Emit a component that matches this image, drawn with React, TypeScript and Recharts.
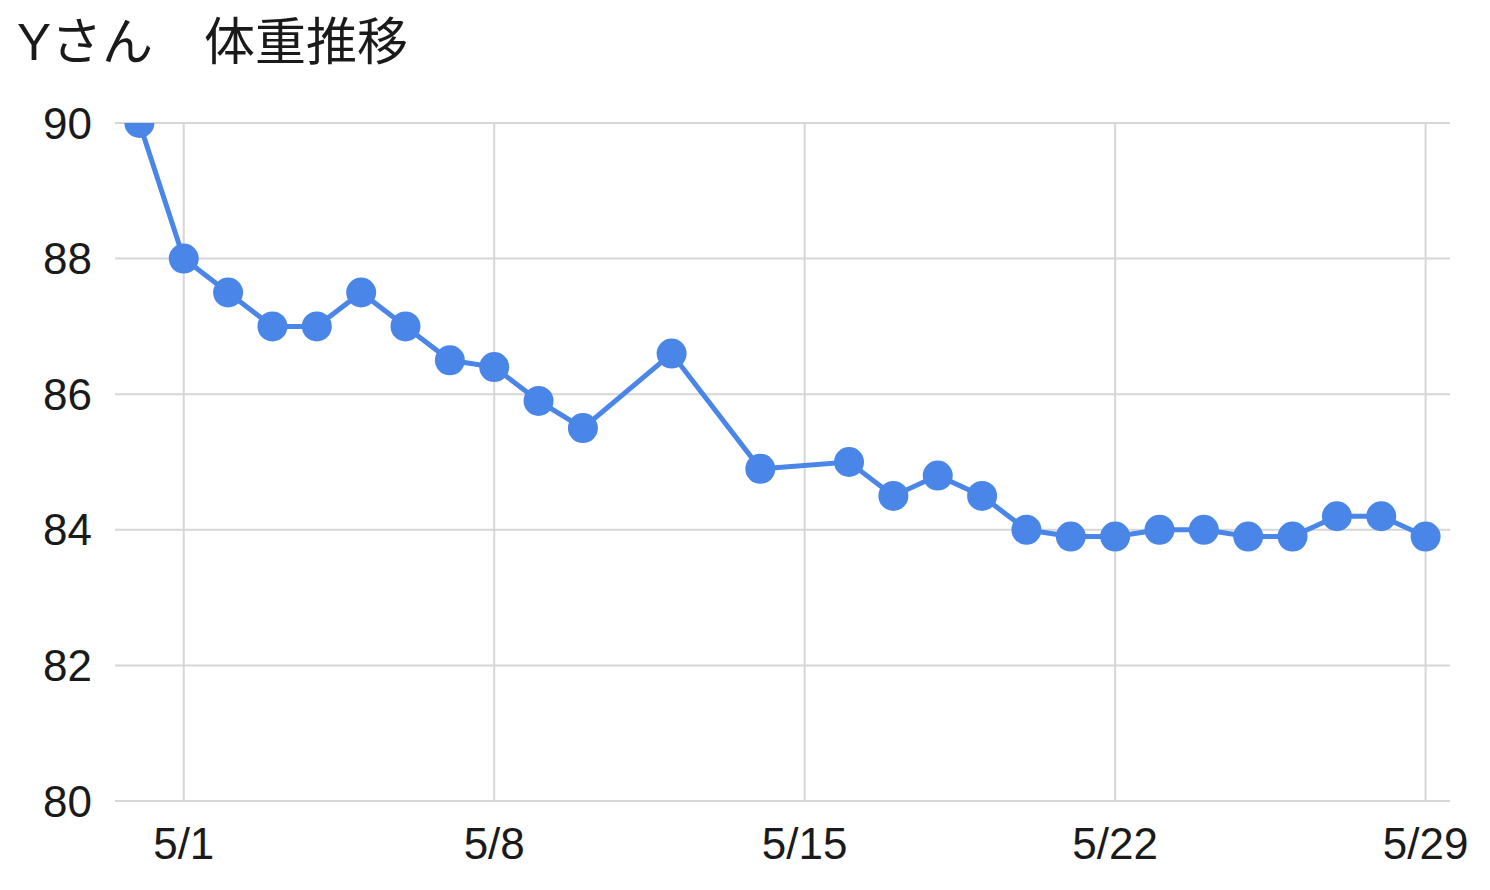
import React from 'react';
import { LineChart, Line, XAxis, YAxis, CartesianGrid } from 'recharts';

const title = 'Yさん　体重推移';

const dates = [
  '4/30', '5/1', '5/2', '5/3', '5/4', '5/5', '5/6', '5/7', '5/8', '5/9',
  '5/10', '5/12', '5/14', '5/16', '5/17', '5/18', '5/19', '5/20', '5/21',
  '5/22', '5/23', '5/24', '5/25', '5/26', '5/27', '5/28', '5/29',
];

const weights = [
  90, 88, 87.5, 87, 87, 87.5, 87, 86.5, 86.4, 85.9,
  85.5, 86.6, 84.9, 85.0, 84.5, 84.8, 84.5, 84.0, 83.9,
  83.9, 84.0, 84.0, 83.9, 83.9, 84.2, 84.2, 83.9,
];

const xTicks = [1, 8, 15, 22, 29];
const yTicks = [80, 82, 84, 86, 88, 90];

// day number counted from 5/1 = 1 (4/30 = 0)
const toDay = (s: string) => {
  const [m, d] = s.split('/').map(Number);
  return m === 4 ? d - 30 : d;
};

const data = dates.map((d, i) => ({ day: toDay(d), weight: weights[i] }));

const FONT = '"Liberation Sans", Arial, "Noto Sans CJK JP", sans-serif';
const BLUE = '#4a86e8';
const TEXT = '#1a1a1a';

export default function App() {
  return (
    <div style={{ position: 'absolute', left: 0, top: 0, width: 1490, height: 890, background: '#fff' }}>
      <svg width={1490} height={100} style={{ position: 'absolute', left: 0, top: 0 }}>
        <text x={17} y={60} fontSize={51} fill={TEXT} fontFamily={FONT}>
          {title}
        </text>
      </svg>
      <div style={{ position: 'absolute', left: 0, top: 0 }}>
        <LineChart
          width={1490}
          height={890}
          data={data}
          margin={{ top: 123, right: 40, bottom: 0, left: 0 }}
        >
          <CartesianGrid stroke="#d6d6d6" strokeWidth={2} syncWithTicks />
          <XAxis
            dataKey="day"
            type="number"
            domain={[-0.55, 29.55]}
            ticks={xTicks}
            tickFormatter={(d) => `5/${d}`}
            allowDataOverflow
            axisLine={false}
            tickLine={false}
            tickSize={0}
            tickMargin={27}
            height={89}
            tick={{ fill: TEXT, fontSize: 44, fontFamily: FONT }}
            interval={0}
          />
          <YAxis
            type="number"
            domain={[80, 90]}
            ticks={yTicks}
            allowDataOverflow
            axisLine={false}
            tickLine={false}
            tickSize={0}
            tickMargin={23}
            width={115}
            tick={{ fill: TEXT, fontSize: 44, fontFamily: FONT }}
            interval={0}
          />
          <Line
            type="linear"
            dataKey="weight"
            stroke={BLUE}
            strokeWidth={5}
            dot={{ r: 15, fill: BLUE, stroke: 'none', strokeWidth: 0 }}
            isAnimationActive={false}
          />
        </LineChart>
      </div>
    </div>
  );
}
